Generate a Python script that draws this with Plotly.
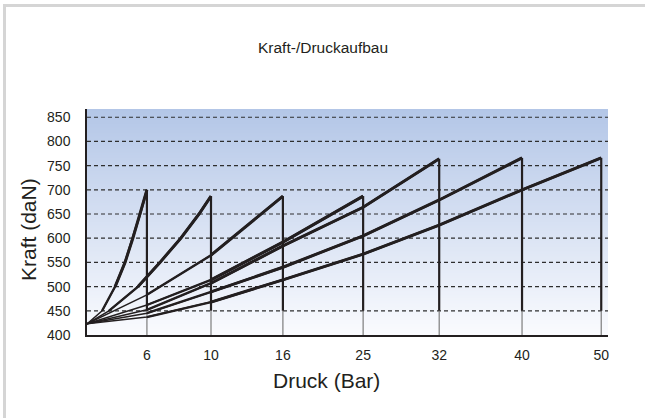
import numpy as np
import plotly.graph_objects as go

# ---- data ----
pressure_labels = ["6", "10", "16", "25", "32", "40", "50"]
pressure_pos = [11.5, 23.8, 37.6, 53.0, 67.6, 83.5, 98.7]   # position of each pressure on the drawn axis
peak_force = [700, 687, 687, 687, 764, 766, 766]
force_ticks = [400, 450, 500, 550, 600, 650, 700, 750, 800, 850]

curve_6_x = [0, 2.9, 5.4, 7.3, 8.8, 10.2, 11.5]
curve_6_y = [423, 450, 500, 550, 600, 650, 700]
curve_10_x = [0, 4.2, 9.8, 14.0, 18.0, 21.5, 23.8]
curve_10_y = [423, 450, 500, 550, 600, 650, 687]
curve_16_x = [0, 11.5, 23.8, 37.6]
curve_16_y = [423, 483, 565, 687]
curve_25_x = [0, 11.5, 23.8, 37.6, 53.0]
curve_25_y = [423, 462, 514, 592, 687]
curve_32_x = [0, 11.5, 23.8, 37.6, 53.0, 67.6]
curve_32_y = [423, 452, 507, 584, 664, 764]
curve_40_x = [0, 11.5, 23.8, 37.6, 53.0, 67.6, 83.5]
curve_40_y = [423, 445, 489, 540, 605, 679, 766]
curve_50_x = [0, 11.5, 23.8, 37.6, 53.0, 67.6, 83.5, 98.7]
curve_50_y = [423, 437, 468, 514, 567, 627, 700, 766]

curves = [
    (curve_6_x, curve_6_y), (curve_10_x, curve_10_y), (curve_16_x, curve_16_y),
    (curve_25_x, curve_25_y), (curve_32_x, curve_32_y), (curve_40_x, curve_40_y),
    (curve_50_x, curve_50_y),
]

X_MAX = 100
Y_MIN, Y_MAX = 400, 867
INK = "#231f20"
FONT = "Liberation Sans, Arial, sans-serif"

fig = go.Figure()

# gradient background
y_edges = np.linspace(Y_MIN, Y_MAX, 230)
z = [[(a + b) / 2] for a, b in zip(y_edges[:-1], y_edges[1:])]
fig.add_trace(go.Heatmap(
    x=[0, X_MAX], y=y_edges, z=z, zmin=Y_MIN, zmax=Y_MAX,
    colorscale=[[0, "#fafbfe"], [1, "#b3c6e7"]],
    showscale=False, hoverinfo="skip"))

# dashed grid
for t in force_ticks[1:]:
    fig.add_trace(go.Scatter(
        x=[0, X_MAX], y=[t, t], mode="lines", hoverinfo="skip",
        line=dict(color="#2e2e2e", width=1.2, dash="4px,3px")))

# vertical drops
for pos, pk in zip(pressure_pos, peak_force):
    fig.add_trace(go.Scatter(x=[pos, pos], y=[pk, 450], mode="lines", hoverinfo="skip",
                             line=dict(color=INK, width=2.2)))
    fig.add_trace(go.Scatter(x=[pos, pos], y=[450, 400], mode="lines", hoverinfo="skip",
                             line=dict(color="#7d7d7d", width=1.2)))

# force build-up curves (tapered by layering identical polylines)
for cx, cy in curves:
    for start, w in [(0, 1.5), (1, 2.4), (2, 3.0)]:
        if len(cx) - start < 2:
            continue
        fig.add_trace(go.Scatter(
            x=cx[start:], y=cy[start:], mode="lines", hoverinfo="skip",
            line=dict(color=INK, width=w, shape="linear")))

# layout geometry (pixels)
L, R, T, B = 87, 37, 109, 83
W, H = 645, 418
pw, ph = W - L - R, H - T - B


def px(x):
    return (x - L) / pw


def py(y):
    return (H - B - y) / ph


fig.update_layout(
    width=W, height=H,
    margin=dict(l=L, r=R, t=T, b=B, pad=0),
    paper_bgcolor="white", plot_bgcolor="white",
    showlegend=False,
    font=dict(family=FONT, color=INK, size=14),
    xaxis=dict(range=[0, X_MAX], tickvals=pressure_pos, ticktext=pressure_labels,
               showgrid=False, zeroline=False, showline=True, linecolor=INK, linewidth=1.5,
               ticks="outside", ticklen=6, tickcolor="rgba(0,0,0,0)",
               tickfont=dict(size=14, color=INK), fixedrange=True),
    yaxis=dict(range=[Y_MIN, Y_MAX], tickvals=force_ticks,
               showgrid=False, zeroline=False, showline=True, linecolor=INK, linewidth=1.5,
               ticks="outside", ticklen=12, tickcolor="rgba(0,0,0,0)",
               tickfont=dict(size=14, color=INK), fixedrange=True),
    annotations=[
        dict(text="Kraft-/Druckaufbau", x=px(323), y=py(48), xref="paper", yref="paper",
             xanchor="center", yanchor="middle",
             showarrow=False, font=dict(size=15.5, color=INK, family=FONT)),
        dict(text="Druck (Bar)", x=px(326), y=py(380), xref="paper", yref="paper",
             xanchor="center", yanchor="middle",
             showarrow=False, font=dict(size=21, color=INK, family=FONT)),
        dict(text="Kraft (daN)", x=px(28), y=py(230), xref="paper", yref="paper",
             xanchor="center", yanchor="middle",
             showarrow=False, textangle=-90, font=dict(size=21, color=INK, family=FONT)),
    ],
    shapes=[
        dict(type="line", xref="paper", yref="paper", x0=px(4.5), x1=px(4.5), y0=py(4), y1=py(425),
             line=dict(color="#d5d5d5", width=3)),
        dict(type="line", xref="paper", yref="paper", x0=px(3), x1=px(650), y0=py(5.5), y1=py(5.5),
             line=dict(color="#d5d5d5", width=3)),
    ],
)

fig.write_html(
    "out.html",
    config={"displayModeBar": False},
    post_script=("document.body.style.margin='0';document.body.style.overflow='hidden';"
                 "document.documentElement.style.overflow='hidden';"),
)
